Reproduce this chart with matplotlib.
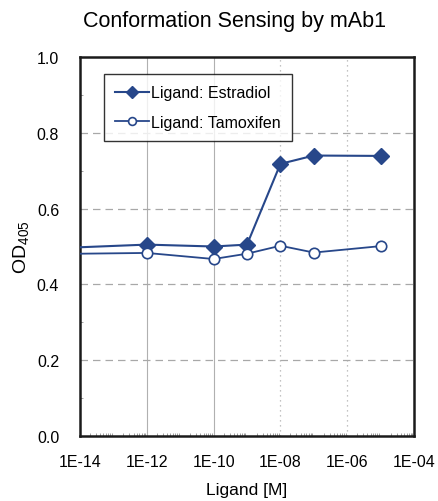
"""
Conformation sensing by mAb1: OD405 against ligand concentration.
"""
import matplotlib
matplotlib.use('Agg')
import matplotlib.pyplot as plt
from matplotlib.ticker import LogLocator, FixedLocator, MultipleLocator

plt.rcParams['font.family'] = ['Liberation Sans', 'DejaVu Sans']
plt.rcParams['mathtext.fontset'] = 'custom'
plt.rcParams['mathtext.rm'] = 'Liberation Sans'
plt.rcParams['mathtext.it'] = 'Liberation Sans'

# ligand concentration [M] and OD405 readings
conc = [1e-14, 1e-12, 1e-10, 1e-9, 1e-8, 1e-7, 1e-5]
estradiol = [0.498, 0.505, 0.500, 0.505, 0.718, 0.740, 0.739]
tamoxifen = [0.481, 0.483, 0.467, 0.481, 0.502, 0.484, 0.501]

xticks = [1e-14, 1e-12, 1e-10, 1e-8, 1e-6, 1e-4]
xticklabels = ['1E-14', '1E-12', '1E-10', '1E-08', '1E-06', '1E-04']
yticks = [0.0, 0.2, 0.4, 0.6, 0.8, 1.0]

blue = '#27478a'


def main():
    fig = plt.figure(figsize=(4.39, 5.02), dpi=100)
    ax = fig.add_axes([80 / 439, 1 - 437 / 502, 334 / 439, 379 / 502])

    ax.set_xscale('log')
    ax.set_xlim(1e-14, 1e-4)
    ax.set_ylim(0, 1.0)

    # vertical grid: solid at first two, dotted further right
    for i, xv in enumerate(xticks[1:-1]):
        if i < 2:
            ax.axvline(xv, color='#b0b0b0', lw=0.8, zorder=0)
        else:
            ax.axvline(xv, color='#b0b0b0', lw=0.9, ls=(0, (1, 3)), zorder=0)
    for yv in yticks[1:-1]:
        ax.axhline(yv, color='#a8a8a8', lw=0.9, ls=(0, (6, 4)), zorder=0)

    ax.plot(conc, estradiol, color=blue, lw=1.5, marker='D', ms=8,
            mfc=blue, mec=blue, markevery=slice(1, None),
            label='Ligand: Estradiol', zorder=3)
    ax.plot(conc, tamoxifen, color=blue, lw=1.3, marker='o', ms=7.5,
            mfc='white', mec=blue, mew=1.2, markevery=slice(1, None),
            label='Ligand: Tamoxifen', zorder=3)

    ax.xaxis.set_major_locator(FixedLocator(xticks))
    ax.set_xticklabels(xticklabels)
    ax.xaxis.set_minor_locator(LogLocator(base=10, subs=range(2, 10), numticks=30))
    ax.set_yticks(yticks)
    ax.set_yticklabels(['%.1f' % v for v in yticks])
    ax.yaxis.set_minor_locator(MultipleLocator(0.1))

    ax.tick_params(axis='both', which='major', labelsize=11.5, length=0)
    ax.tick_params(axis='x', which='major', pad=13)
    ax.tick_params(axis='y', which='major', pad=15)
    ax.tick_params(axis='both', which='minor', direction='in', length=2,
                   width=0.6, color='#909090', labelbottom=False)

    for sp in ax.spines.values():
        sp.set_linewidth(1.8)
        sp.set_color('#1a1a1a')

    fig.text(235 / 439, 1 - 22 / 502, 'Conformation Sensing by mAb1',
             fontsize=15.5, ha='center', va='center')
    ax.set_xlabel('Ligand [M]', fontsize=12.5, labelpad=9)
    ax.set_ylabel('OD$_{405}$', fontsize=14, labelpad=4)

    leg = ax.legend(loc='upper left', bbox_to_anchor=(0.072, 0.955),
                    borderaxespad=0, fontsize=11.5, frameon=True,
                    fancybox=False, edgecolor='black', borderpad=0.7,
                    labelspacing=0.9, handlelength=2.1, handletextpad=0.15,
                    markerscale=0.75)
    leg.get_frame().set_linewidth(1.0)

    plt.savefig('out.png', dpi=100)


if __name__ == '__main__':
    main()
